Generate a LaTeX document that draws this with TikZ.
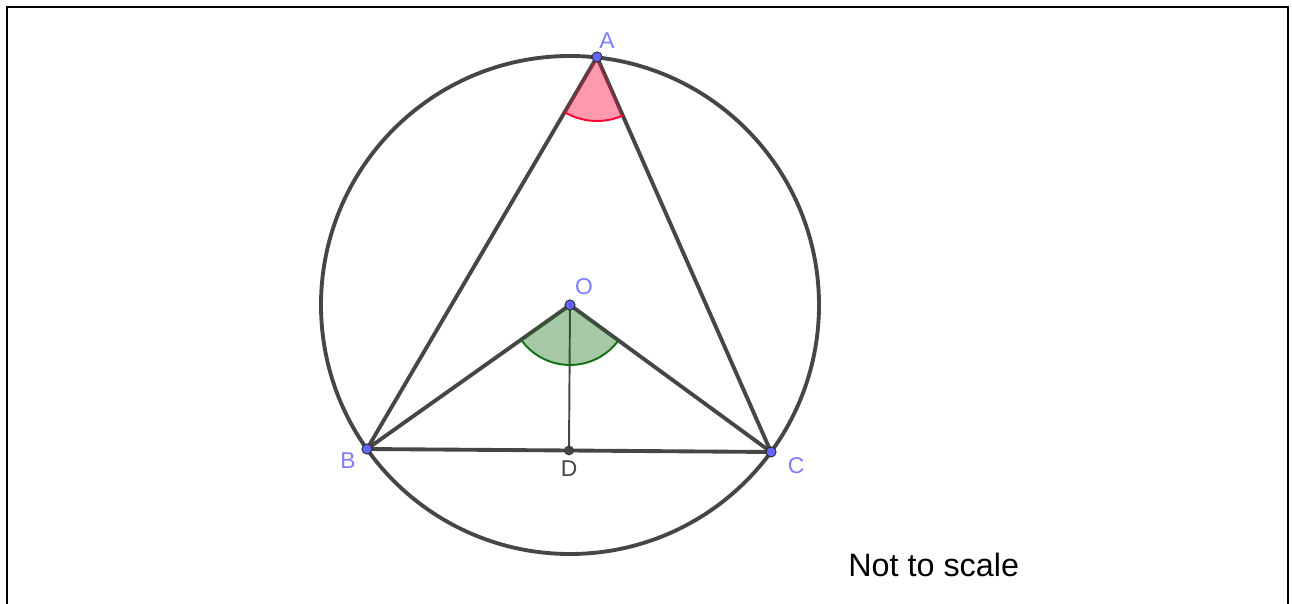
\documentclass[tikz,border=0pt]{standalone}
\usepackage{fontspec}
\setmainfont{Liberation Sans}
\usetikzlibrary{angles}
\definecolor{linegrey}{RGB}{70,70,70}
\definecolor{ptblue}{RGB}{100,100,255}
\definecolor{lblblue}{RGB}{125,125,255}
\definecolor{angred}{RGB}{255,0,51}
\definecolor{anggreen}{RGB}{20,110,20}
\tikzset{edge/.style={draw=linegrey, line width=2.2pt, line cap=round}}
\tikzset{thinedge/.style={draw=linegrey, line width=1.1pt}}
\tikzset{pt/.style={circle, inner sep=0pt, minimum size=5.8pt, fill=ptblue, draw=black!85, line width=0.5pt}}
\tikzset{ptlbl/.style={text=lblblue, font=\fontsize{13}{15}\selectfont, inner sep=0pt}}
\begin{document}
\begin{tikzpicture}[x=0.02cm, y=-0.02cm]
  \useasboundingbox (0,0) rectangle (1292,604);
  % frame, open at the bottom
  \draw[line width=1.3pt] (7,604) -- (7,7) -- (281,7);
  \draw[line width=0.7pt] (281,7) -- (831,7);
  \draw[line width=1.3pt] (831,7) -- (1288,7) -- (1288,604);
  % points of the figure
  \coordinate (O) at (570,305);
  \coordinate (A) at (597,57);
  \coordinate (B) at (367,449);
  \coordinate (C) at (771,452);
  \coordinate (D) at (569,450.5);
  \draw[edge] (O) circle[radius=249];
  \draw[edge] (A) -- (B) -- (C) -- cycle;
  \draw[edge] (B) -- (O) -- (C);
  \draw[thinedge] (O) -- (D);
  % marked angles
  \pic[fill=angred, fill opacity=0.4, draw=angred, line width=1.1pt, angle radius=1.28cm] {angle=B--A--C};
  \pic[fill=anggreen, fill opacity=0.38, draw=anggreen, line width=1.1pt, angle radius=1.2cm] {angle=B--O--C};
  % dots and labels
  \node[pt] (ptA) at (A) {};
  \node[pt] (ptB) at (B) {};
  \node[pt] (ptC) at (C) {};
  \node[pt] (ptO) at (O) {};
  \node[pt, fill=linegrey, draw=black!80, minimum size=5pt] (ptD) at (D) {};
  \node[ptlbl] (lblA) at (607,41) {A};
  \node[ptlbl] (lblO) at (584,287) {O};
  \node[ptlbl] (lblB) at (348,461) {B};
  \node[ptlbl] (lblC) at (796,466) {C};
  \node[ptlbl, text=linegrey] (lblD) at (569,469) {D};
  \node[anchor=base west, inner sep=0pt, font=\fontsize{18.4}{21}\selectfont] (note) at (848,577) {Not to scale};
\end{tikzpicture}
\end{document}
